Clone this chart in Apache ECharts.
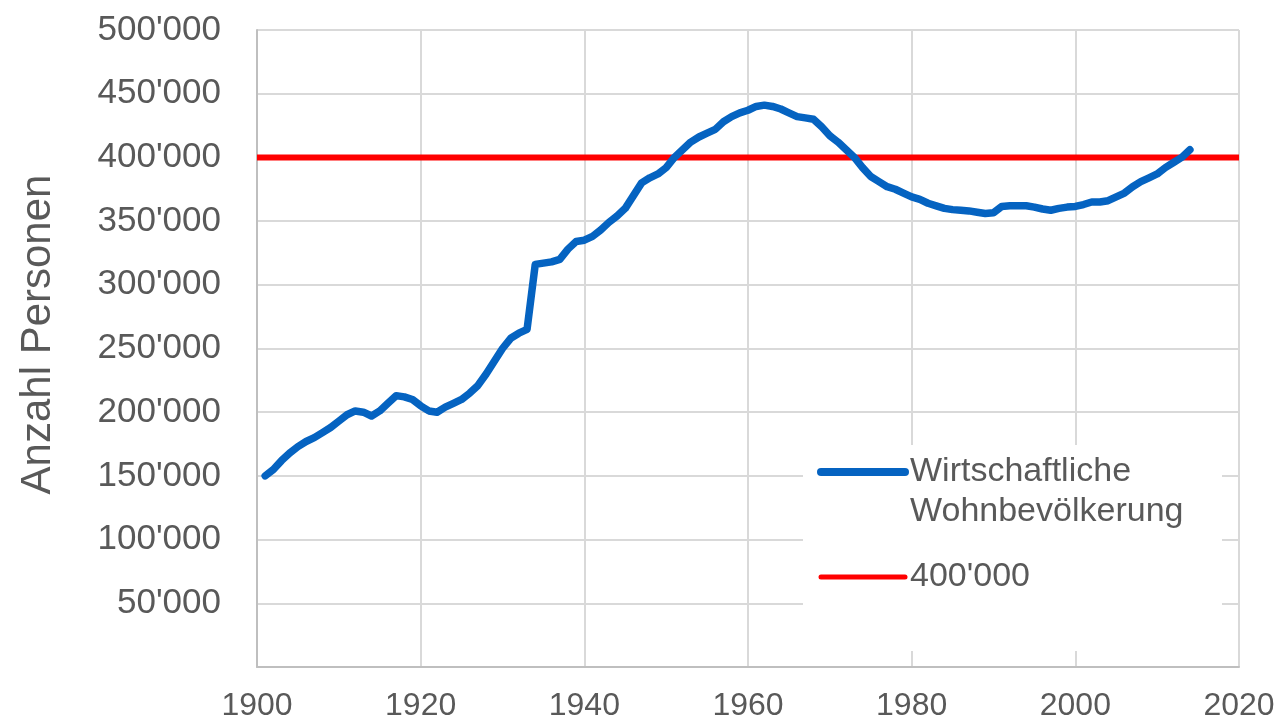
<!DOCTYPE html>
<html>
<head>
<meta charset="utf-8">
<script src="https://cdn.jsdelivr.net/npm/echarts@6/dist/echarts.min.js"></script>
<style>
html,body{margin:0;padding:0;background:#fff;}
#chart{width:1284px;height:725px;}
</style>
</head>
<body>
<div id="chart"></div>
<script>
var years = [1901,1902,1903,1904,1905,1906,1907,1908,1909,1910,
1911,1912,1913,1914,1915,1916,1917,1918,1919,1920,
1921,1922,1923,1924,1925,1926,1927,1928,1929,1930,
1931,1932,1933,1934,1935,1936,1937,1938,1939,1940,
1941,1942,1943,1944,1945,1946,1947,1948,1949,1950,
1951,1952,1953,1954,1955,1956,1957,1958,1959,1960,
1961,1962,1963,1964,1965,1966,1967,1968,1969,1970,
1971,1972,1973,1974,1975,1976,1977,1978,1979,1980,
1981,1982,1983,1984,1985,1986,1987,1988,1989,1990,
1991,1992,1993,1994,1995,1996,1997,1998,1999,2000,
2001,2002,2003,2004,2005,2006,2007,2008,2009,2010,
2011,2012,2013,2014];
var population = [150000,155000,162000,168000,173000,177000,180000,184000,188000,193000,
198000,201000,200000,197000,201000,207000,213000,212000,210000,205000,
201000,200000,204000,207000,210000,215000,221000,230000,240000,250000,
258000,262000,265000,316000,317000,318000,320000,328000,334000,335000,
338000,343000,349000,354000,360000,370000,380000,384000,387000,392000,
400000,406000,412000,416000,419000,422000,428000,432000,435000,437000,
440000,441000,440000,438000,435000,432000,431000,430000,424000,417000,
412000,406000,400000,392000,385000,381000,377000,375000,372000,369000,
367000,364000,362000,360000,359000,358500,358000,357000,356000,356500,
361500,362000,362000,362000,361000,359500,358500,360000,361000,361500,
363000,365000,365000,366000,369000,372000,377000,381000,384000,387000,
392000,396000,400000,406000];
var targetYears = [1900, 2020];
var targetValues = [400000, 400000];
var seriesNames = ['Wirtschaftliche\nWohnbevölkerung', "400'000"];
var yAxisTitle = 'Anzahl Personen';

function pairs(xs, ys){ return xs.map(function(x,i){ return [x, ys[i]]; }); }
function fmtThousands(v){
  if (v === 0) return '';
  var s = String(Math.round(v));
  return s.replace(/\B(?=(\d{3})+(?!\d))/g, "'");
}

var chart = echarts.init(document.getElementById('chart'), null, {renderer:'canvas'});
var textColor = '#595959';
var blue = '#0563C1', red = '#FF0000';
chart.setOption({
  animation: false,
  backgroundColor: '#ffffff',
  grid: {left: 257, right: 45, top: 30, bottom: 58, containLabel: false},
  graphic: [{
    type: 'rect', left: 803, top: 445, z: 1,
    shape: {width: 419, height: 206},
    style: {fill: '#ffffff'}
  }],
  xAxis: {
    type: 'value', min: 1900, max: 2020, interval: 20,
    axisLine: {show: true, lineStyle: {color: '#BFBFBF', width: 2}},
    axisTick: {show: false},
    splitLine: {show: true, lineStyle: {color: '#D9D9D9', width: 2}},
    axisLabel: {
      color: textColor, fontSize: 32, margin: 23,
      fontFamily: "'Liberation Sans Narrow', 'Liberation Sans', Arial, sans-serif",
      formatter: function(v){ return String(v); }
    }
  },
  yAxis: {
    type: 'value', min: 0, max: 500000, interval: 50000,
    name: yAxisTitle, nameLocation: 'middle', nameRotate: 90, nameGap: 198,
    nameTextStyle: {color: textColor, fontSize: 42, fontFamily: "'Liberation Sans', Arial, sans-serif", padding: [0,0,0,28]},
    axisLine: {show: true, lineStyle: {color: '#BFBFBF', width: 2}},
    axisTick: {show: false},
    splitLine: {show: true, lineStyle: {color: '#D9D9D9', width: 2}},
    axisLabel: {
      color: textColor, fontSize: 35, margin: 36,
      fontFamily: "'Liberation Sans', Arial, sans-serif",
      formatter: fmtThousands
    }
  },
  legend: {
    orient: 'vertical', left: 817, top: 412, padding: 0, itemGap: 25,
    itemWidth: 84, itemHeight: 8, z: 4,
    selectedMode: false,
    formatter: function(name){ return name.indexOf('\n') >= 0 ? ' \n' + name : name; },
    textStyle: {color: textColor, fontSize: 34, lineHeight: 40, fontFamily: "'Liberation Sans', Arial, sans-serif"},
    data: [
      {name: seriesNames[0], itemStyle: {color: 'rgba(0,0,0,0)', borderWidth: 0},
       lineStyle: {color: blue, width: 8, cap: 'round'}},
      {name: seriesNames[1], itemStyle: {color: 'rgba(0,0,0,0)', borderWidth: 0},
       lineStyle: {color: red, width: 5, cap: 'round'}}
    ]
  },
  series: [
    {
      name: seriesNames[0], type: 'line', data: pairs(years, population),
      symbol: 'none', smooth: false, z: 3,
      lineStyle: {color: blue, width: 7.5, cap: 'round', join: 'round'},
      itemStyle: {color: blue}
    },
    {
      name: seriesNames[1], type: 'line', data: pairs(targetYears, targetValues),
      symbol: 'none', z: 2,
      lineStyle: {color: red, width: 6},
      itemStyle: {color: red}
    }
  ]
});
</script>
</body>
</html>
